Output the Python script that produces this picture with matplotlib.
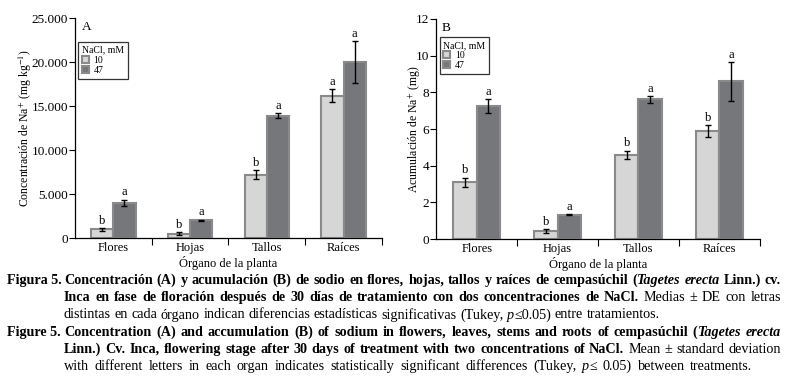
import matplotlib
matplotlib.use("Agg")
import matplotlib.pyplot as plt
import numpy as np

plt.rcParams['font.family'] = ['Liberation Serif', 'DejaVu Serif']
plt.rcParams['mathtext.fontset'] = 'stix'

categories = ['Flores', 'Hojas', 'Tallos', 'Raíces']
legend_labels = ['10', '47']

conc_10 = [1000, 500, 7200, 16200]
conc_10_err = [150, 150, 500, 750]
conc_47 = [4000, 2000, 13900, 20000]
conc_47_err = [350, 100, 300, 2400]
conc_letters_10 = ['b', 'b', 'b', 'a']
conc_letters_47 = ['a', 'a', 'a', 'a']

acc_10 = [3.1, 0.45, 4.6, 5.9]
acc_10_err = [0.25, 0.1, 0.22, 0.32]
acc_47 = [7.25, 1.32, 7.62, 8.6]
acc_47_err = [0.38, 0.03, 0.18, 1.05]
acc_letters_10 = ['b', 'b', 'b', 'b']
acc_letters_47 = ['a', 'a', 'a', 'a']

C10 = '#d6d6d6'
C47 = '#76777a'
EDGE = '#8a8a8a'

fig = plt.figure(figsize=(7.89, 3.87), dpi=100)
axA = fig.add_axes([0.095, 0.385, 0.389, 0.568])
axB = fig.add_axes([0.553, 0.382, 0.410, 0.569])

def panel(ax, v10, e10, v47, e47, l10, l47, ymax, yticks, yticklabels, ylabel, tag, offs,
          lpad, tagx, legtop):
    x = np.arange(len(categories))
    w = 0.29
    ax.bar(x - w/2, v10, w, color=C10, edgecolor=EDGE, linewidth=1.5, label=legend_labels[0], zorder=2)
    ax.bar(x + w/2, v47, w, color=C47, edgecolor=EDGE, linewidth=1.5, label=legend_labels[1], zorder=2)
    ax.errorbar(x - w/2, v10, yerr=e10, fmt='none', ecolor='black', elinewidth=1.0, capsize=2.2, capthick=1.0, zorder=3)
    ax.errorbar(x + w/2, v47, yerr=e47, fmt='none', ecolor='black', elinewidth=1.0, capsize=2.2, capthick=1.0, zorder=3)
    for i in range(len(categories)):
        ax.text(x[i] - w/2, v10[i] + e10[i] + offs, l10[i], ha='center', va='bottom', fontsize=9)
        ax.text(x[i] + w/2, v47[i] + e47[i] + offs, l47[i], ha='center', va='bottom', fontsize=9)
    ax.set_xlim(-0.5, len(categories) - 0.5)
    ax.set_ylim(0, ymax)
    ax.set_yticks(yticks)
    ax.set_yticklabels(yticklabels, fontsize=9.5)
    ax.set_xticks(np.arange(0.5, len(categories), 1.0))
    ax.set_xticklabels([])
    ax.set_xticks(x, minor=True)
    ax.set_xticklabels(categories, minor=True, fontsize=9)
    ax.tick_params(axis='x', which='minor', length=0, pad=3)
    ax.tick_params(axis='x', which='major', length=5, direction='out', width=0.8)
    ax.tick_params(axis='y', length=4, direction='out', width=0.8, pad=1)
    for s in ['top', 'right']:
        ax.spines[s].set_visible(False)
    for s in ['left', 'bottom']:
        ax.spines[s].set_linewidth(0.9)
    ax.set_xlabel('Órgano de la planta', fontsize=9, labelpad=1)
    ax.set_ylabel(ylabel, fontsize=8.5, labelpad=lpad)
    ax.text(tagx, 0.985, tag, transform=ax.transAxes, fontsize=9.5, va='top', ha='left')
    leg = ax.legend(title='NaCl, mM', loc='upper left', bbox_to_anchor=(0.01, legtop),
                    fontsize=7, title_fontsize=7, frameon=True, fancybox=False,
                    edgecolor='black', handlelength=0.8, handleheight=0.8,
                    handletextpad=0.4, borderpad=0.4, labelspacing=0.1, borderaxespad=0)
    leg.get_frame().set_linewidth(0.9)
    leg._legend_box.align = 'left'
    for h in leg.legend_handles:
        h.set_height(5)
        h.set_width(5)

panel(axA, conc_10, conc_10_err, conc_47, conc_47_err, conc_letters_10, conc_letters_47,
      25000, [0, 5000, 10000, 15000, 20000, 25000],
      ['0', '5.000', '10.000', '15.000', '20.000', '25.000'],
      r'Concentración de Na$^{+}$ (mg kg$^{-1}$)', 'A', 150, -2, 0.022, 0.893)
panel(axB, acc_10, acc_10_err, acc_47, acc_47_err, acc_letters_10, acc_letters_47,
      12, [0, 2, 4, 6, 8, 10, 12], ['0', '2', '4', '6', '8', '10', '12'],
      r'Acumulación de Na$^{+}$ (mg)', 'B', 0.08, -5.2, 0.015, 0.918)

# Caption: (x start, y centre, justify, runs); a run with a number is a hanging prefix
lines = [
    (7, 280, True, [('Figura 5.', 'bold', 'normal', 64),
                    ('Concentración (A) y acumulación (B) de sodio en flores, hojas, tallos y raíces de cempasúchil (', 'bold', 'normal', None),
                    ('Tagetes erecta', 'bold', 'italic', None), (' Linn.) cv.', 'bold', 'normal', None)]),
    (64, 297, True, [('Inca en fase de floración después de 30 días de tratamiento con dos concentraciones de NaCl.', 'bold', 'normal', None),
                     (' Medias ± DE con letras', 'normal', 'normal', None)]),
    (64, 314.5, False, [('distintas en cada órgano indican diferencias estadísticas significativas (Tukey, ', 'normal', 'normal', None),
                        ('p', 'normal', 'italic', None), ('≤0.05) entre tratamientos.', 'normal', 'normal', None)]),
    (7, 332, True, [('Figure 5.', 'bold', 'normal', 64),
                    ('Concentration (A) and accumulation (B) of sodium in flowers, leaves, stems and roots of cempasúchil (', 'bold', 'normal', None),
                    ('Tagetes erecta', 'bold', 'italic', None)]),
    (64, 349, True, [('Linn.) Cv. Inca, flowering stage after 30 days of treatment with two concentrations of NaCl.', 'bold', 'normal', None),
                     (' Mean ± standard deviation', 'normal', 'normal', None)]),
    (64, 366, True, [('with different letters in each organ indicates statistically significant differences (Tukey, ', 'normal', 'normal', None),
                     ('p', 'normal', 'italic', None), ('≤ 0.05) between treatments.', 'normal', 'normal', None)]),
]

W, H = 789, 387
XEND = 781
FS = 10.2
BASE = 4.0  # baseline offset below line centre, px
renderer = fig.canvas.get_renderer()

def build(yb, body, fs):
    tokens = []
    pending_space = False
    for txt, wt, st in body:
        parts = txt.split(' ')
        for i, p in enumerate(parts):
            if i > 0:
                pending_space = True
            if p:
                tokens.append((p, wt, st, pending_space and len(tokens) > 0))
                pending_space = False
    items = []
    total = 0.0
    nsp = 0
    for p, wt, st, sp in tokens:
        t = fig.text(0, 1 - yb / H, p, fontsize=fs, fontweight=wt, fontstyle=st,
                     va='baseline', ha='left')
        wpx = t.get_window_extent(renderer=renderer).width
        items.append((t, wpx, sp))
        total += wpx
        if sp:
            nsp += 1
    return items, total, nsp

for x0, y0, justify, runs in lines:
    yb = y0 + BASE
    start = x0
    body = []
    for txt, wt, st, fixed in runs:
        if fixed is not None:
            fig.text(x0 / W, 1 - yb / H, txt, fontsize=FS, fontweight=wt,
                     fontstyle=st, va='baseline', ha='left')
            start = fixed
        else:
            body.append((txt, wt, st))
    fs = FS
    items, total, nsp = build(yb, body, fs)
    sp_nat = 0.25 * fs * 100 / 72
    if total + nsp * sp_nat * 0.75 > XEND - start:
        for t, _, _ in items:
            t.remove()
        fs = fs * (XEND - start - nsp * sp_nat * 0.75) / total
        items, total, nsp = build(yb, body, fs)
        sp_nat = 0.25 * fs * 100 / 72
    if justify:
        gap = (XEND - start - total) / max(nsp, 1)
        gap = min(gap, 1.6 * sp_nat)
    else:
        gap = sp_nat
    xpos = start
    for t, wpx, sp in items:
        if sp:
            xpos += gap
        t.set_x(xpos / W)
        xpos += wpx

fig.savefig('out.png', dpi=100)
